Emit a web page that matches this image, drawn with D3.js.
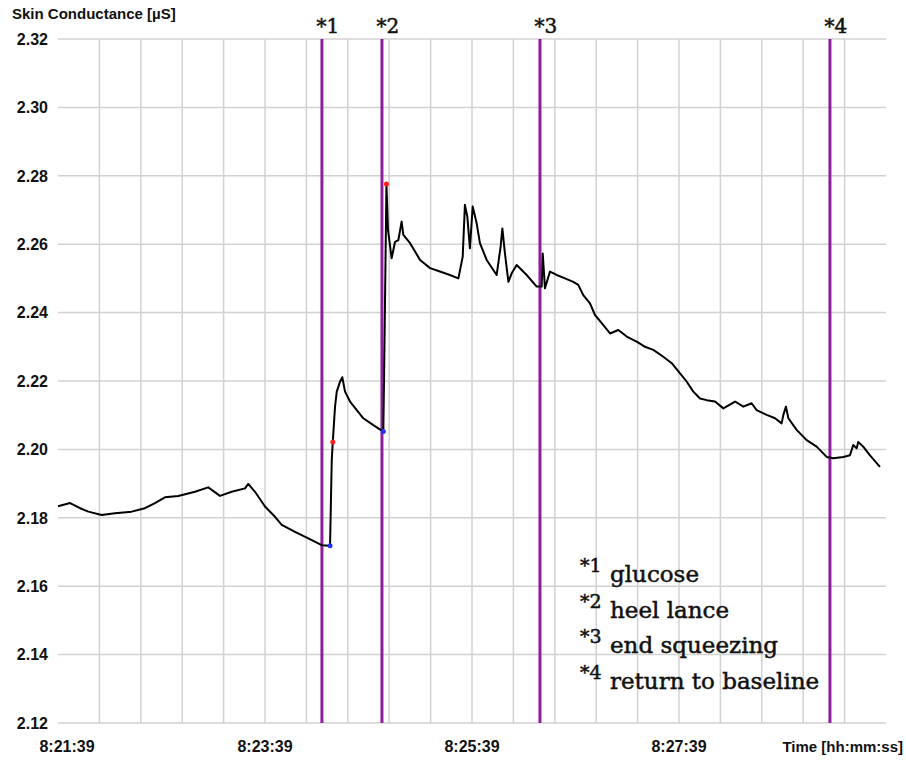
<!DOCTYPE html>
<head>
<meta charset="utf-8">
<style>
body { margin: 0; background: #fff; }
.grid line { stroke: #d2d2d2; stroke-width: 1.5; }
.axislab { font-family: "Liberation Sans", Arial, sans-serif; font-size: 16px; fill: #111; }
.event { stroke: #8e1f9c; stroke-width: 3; }
.serif { font-family: "DejaVu Serif", "Liberation Serif", serif; fill: #111; stroke: #111; stroke-width: 0.5; }
</style>
<script src="https://d3js.org/d3.v7.min.js"></script>
</head>
<body>
<div id="chart"></div>
<script>

// seconds after 8:21:39
var timeSec = [0, 7.0, 12.8, 17.6, 25.3, 33.0, 42.7, 50.4, 56.2, 62.0, 69.7, 79.4, 87.1, 93.9,
  100.7, 108.4, 110.3, 114.2, 120.0, 125.8, 129.7, 137.4, 145.1, 152.9, 157.7,
  158.7, 159.3, 160.6, 161.6, 163.5, 164.8, 166.4, 169.3, 173.2, 177.0, 182.8, 188.6,
  189.3, 190.4, 191.3, 193.4, 195.4, 197.3, 199.2, 200.2, 204.1, 209.9, 215.7, 221.4, 227.2,
  232.1, 234.6, 235.9, 237.3, 238.8, 240.4, 242.7, 244.6, 248.5, 254.3, 256.6, 257.6, 259.1,
  261.1, 263.0, 265.9, 271.7, 277.5, 280.4, 281.0, 282.3, 285.2, 289.1, 293.9, 298.7, 301.6,
  304.5, 308.4, 311.3, 315.2, 320.0, 324.8, 329.7, 335.5, 340.3, 345.1, 350.9, 355.8, 360.6,
  364.5, 368.3, 372.2, 376.1, 380.9, 385.7, 392.5, 397.3, 402.1, 405.0, 410.8, 415.7, 419.5,
  420.5, 422.0, 423.4, 428.2, 434.0, 439.8, 445.6, 449.4, 455.3, 459.1, 461.0, 463.0, 463.9,
  466.8, 470.6, 476.5];
var conductance = [2.1834, 2.1843, 2.1828, 2.1818, 2.1808, 2.1813, 2.1818, 2.1828, 2.1843, 2.1860,
  2.1864, 2.1876, 2.1889, 2.1864, 2.1876, 2.1886, 2.1899, 2.1876, 2.1833, 2.1803, 2.1779,
  2.1759, 2.1740, 2.1720, 2.1718,
  2.1969, 2.2022, 2.2125, 2.2169, 2.2198, 2.2211, 2.2169, 2.2140, 2.2115, 2.2091, 2.2071, 2.2052,
  2.2320, 2.2776, 2.2642, 2.2559, 2.2607, 2.2612, 2.2666, 2.2627, 2.2603, 2.2554, 2.2530, 2.2520, 2.2510,
  2.2500, 2.2563, 2.2715, 2.2680, 2.2588, 2.2710, 2.2661, 2.2603, 2.2554, 2.2510, 2.2593, 2.2646, 2.2573,
  2.2490, 2.2515, 2.2539, 2.2510, 2.2476, 2.2476, 2.2573, 2.2471, 2.2520, 2.2510, 2.2500, 2.2490, 2.2481,
  2.2451, 2.2427, 2.2393, 2.2369, 2.2339, 2.2349, 2.2330, 2.2315, 2.2300, 2.2291, 2.2271, 2.2252, 2.2222,
  2.2198, 2.2169, 2.2149, 2.2144, 2.2140, 2.2120, 2.2140, 2.2125, 2.2135, 2.2115, 2.2101, 2.2091, 2.2076,
  2.2101, 2.2125, 2.2091, 2.2057, 2.2027, 2.2008, 2.1978, 2.1974, 2.1978, 2.1983, 2.2013, 2.2003, 2.2022,
  2.2008, 2.1983, 2.1949];

// coloured marker points: [sec, value]
var blueMarks = [[157.7, 2.1718], [188.6, 2.2052]];
var redMarks = [[159.3, 2.2022], [190.4, 2.2776]];

var eventSec = [153.0, 187.8, 279.4, 447.5];
var eventNames = ["*1", "*2", "*3", "*4"];
var legendText = ["glucose", "heel lance", "end squeezing", "return to baseline"];

var yTicks = [2.12, 2.14, 2.16, 2.18, 2.20, 2.22, 2.24, 2.26, 2.28, 2.30, 2.32];
var xLabels = ["8:21:39", "8:23:39", "8:25:39", "8:27:39"];

var startTime = new Date(2000, 0, 1, 8, 21, 39);
function at(s) { return new Date(startTime.getTime() + s * 1000); }

var margin = {top: 39, right: 20, bottom: 38, left: 58},
    width = 906 - margin.left - margin.right,
    height = 761 - margin.top - margin.bottom;

var x = d3.scaleTime()
    .domain([at(0), at(480)])
    .range([0, width]);

var y = d3.scaleLinear()
    .domain([2.12, 2.32])
    .range([height, 0]);

var svg = d3.select('#chart').append('svg')
    .attr('width', 906)
    .attr('height', 761)
  .append('g')
    .attr('transform', 'translate(' + margin.left + ',' + margin.top + ')');

// grid
var grid = svg.append('g').attr('class', 'grid');
grid.selectAll('.h').data(yTicks).enter().append('line')
    .attr('x1', 0).attr('x2', width)
    .attr('y1', function(d) { return y(d); })
    .attr('y2', function(d) { return y(d); });
grid.selectAll('.v').data(d3.range(24, 480, 24)).enter().append('line')
    .attr('x1', function(d) { return x(at(d)); })
    .attr('x2', function(d) { return x(at(d)); })
    .attr('y1', 0).attr('y2', height);

// y labels
svg.selectAll('.ylab').data(yTicks).enter().append('text')
    .attr('class', 'axislab')
    .attr('x', -10)
    .attr('y', function(d) { return y(d); })
    .attr('dy', '0.36em')
    .attr('text-anchor', 'end')
    .style('font-weight', 'bold')
    .text(function(d) { return d.toFixed(2); });

svg.append('text')
    .attr('class', 'axislab')
    .attr('x', -46).attr('y', -20)
    .style('font-size', '15px')
    .style('font-weight', 'bold')
    .text('Skin Conductance [µS]');

// x labels
svg.selectAll('.xlab').data(xLabels).enter().append('text')
    .attr('class', 'axislab')
    .attr('x', function(d, i) { return x(at(i * 120)) + (i === 0 ? 9 : 0); })
    .attr('y', height + 29)
    .attr('text-anchor', 'middle')
    .style('font-weight', 'bold')
    .text(function(d) { return d; });

svg.append('text')
    .attr('class', 'axislab')
    .attr('x', width + 17).attr('y', height + 29)
    .attr('text-anchor', 'end')
    .style('font-size', '15px')
    .style('font-weight', 'bold')
    .text('Time [hh:mm:ss]');

// event lines
svg.selectAll('.event').data(eventSec).enter().append('line')
    .attr('class', 'event')
    .attr('x1', function(d) { return x(at(d)); })
    .attr('x2', function(d) { return x(at(d)); })
    .attr('y1', 0).attr('y2', height);

svg.selectAll('.evlab').data(eventSec).enter().append('text')
    .attr('class', 'serif')
    .attr('x', function(d) { return x(at(d)) + 6; })
    .attr('y', -6)
    .attr('text-anchor', 'middle')
    .style('font-size', '20px')
    .text(function(d, i) { return eventNames[i]; });

// signal
var line = d3.line()
    .x(function(d) { return x(at(d[0])); })
    .y(function(d) { return y(d[1]); });

svg.append('path')
    .datum(d3.zip(timeSec, conductance))
    .attr('fill', 'none')
    .attr('stroke', '#000')
    .attr('stroke-width', 2)
    .attr('stroke-linejoin', 'round')
    .attr('d', line);

svg.selectAll('.bm').data(blueMarks).enter().append('circle')
    .attr('cx', function(d) { return x(at(d[0])); })
    .attr('cy', function(d) { return y(d[1]); })
    .attr('r', 2.5).attr('fill', '#2233ff');
svg.selectAll('.rm').data(redMarks).enter().append('circle')
    .attr('cx', function(d) { return x(at(d[0])); })
    .attr('cy', function(d) { return y(d[1]); })
    .attr('r', 2.5).attr('fill', '#ff2020');

// legend
var leg = svg.append('g').attr('transform', 'translate(522,' + (height - 141) + ')');
legendText.forEach(function(t, i) {
  var g = leg.append('g').attr('transform', 'translate(0,' + (i * 35.5) + ')');
  g.append('text').attr('class', 'serif').attr('y', -10)
    .style('font-size', '19px').text(eventNames[i]);
  g.append('text').attr('class', 'serif').attr('x', 30)
    .style('font-size', '23px').text(t);
});

</script>
</body>
